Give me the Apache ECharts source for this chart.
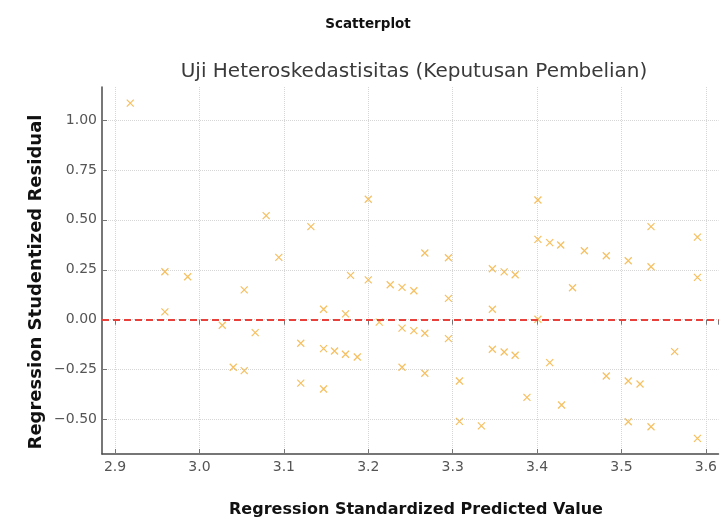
<!DOCTYPE html>
<html>
<head>
<meta charset="utf-8">
<script src="https://cdn.jsdelivr.net/npm/echarts@6/dist/echarts.min.js"></script>
<style>html,body{margin:0;padding:0;background:#fff}#c{width:720px;height:520px}</style>
</head>
<body>
<div id="c"></div>
<script>
const predicted = [2.918,2.959,2.959,2.986,3.027,3.040,3.053,3.053,3.066,3.079,3.094,3.120,3.120,3.132,3.147,3.147,3.147,3.160,3.173,3.173,3.179,3.187,3.200,3.200,3.213,3.226,3.240,3.240,3.240,3.254,3.254,3.267,3.267,3.267,3.295,3.295,3.295,3.308,3.308,3.334,3.347,3.347,3.347,3.361,3.361,3.374,3.374,3.388,3.401,3.401,3.401,3.415,3.415,3.428,3.429,3.442,3.456,3.482,3.482,3.508,3.508,3.508,3.522,3.535,3.535,3.535,3.563,3.590,3.590,3.590];
const residual = [1.084,0.240,0.039,0.215,-0.028,-0.238,-0.255,0.149,-0.065,0.521,0.312,-0.118,-0.318,0.466,0.052,-0.145,-0.347,-0.157,0.029,-0.173,0.222,-0.187,0.603,0.199,-0.012,0.175,0.162,-0.042,-0.238,0.145,-0.055,0.334,-0.068,-0.268,0.310,0.107,-0.095,-0.307,-0.509,-0.532,0.255,0.052,-0.148,0.239,-0.162,0.225,-0.178,-0.389,0.599,0.402,0.002,0.386,-0.215,0.374,-0.427,0.160,0.345,0.320,-0.282,0.295,-0.307,-0.511,-0.322,0.466,0.265,-0.536,-0.160,0.413,0.212,-0.594];
const refLine = 0;
const mainTitle = 'Scatterplot';
const subTitle = 'Uji Heteroskedastisitas (Keputusan Pembelian)';
const xName = 'Regression Standardized Predicted Value';
const yName = 'Regression Studentized Residual';

const pts = predicted.map((x, i) => [x, residual[i]]);
const chart = echarts.init(document.getElementById('c'), null, {renderer: 'canvas'});
const fmtY = v => (v < 0 ? '\u2212' : '') + Math.abs(v).toFixed(2);
const X_MIN = 2.8845, X_MAX = 3.615, Y_MIN = -0.6725, Y_MAX = 1.165;
const gridLine = {show: true, showMinLine: false, showMaxLine: false, lineStyle: {color: '#d6d6d6', type: 'dotted', width: 1}};
const tick = {show: true, inside: true, length: 5, lineStyle: {color: '#777', width: 1}};
chart.setOption({
  animation: false,
  backgroundColor: '#fff',
  grid: {left: 102, right: 0, top: 87, bottom: 66, containLabel: false},
  xAxis: [{
    type: 'value', min: X_MIN, max: X_MAX, minInterval: 0.1, maxInterval: 0.1,
    axisLine: {show: true, onZero: false, lineStyle: {color: '#4a4a4a', width: 1.5}},
    axisTick: tick,
    axisLabel: {showMinLabel: false, showMaxLabel: false, color: '#555', fontSize: 14, margin: 6,
      fontFamily: 'DejaVu Sans', formatter: v => v.toFixed(1)},
    splitLine: gridLine
  }, {
    type: 'value', position: 'top', min: X_MIN, max: X_MAX, minInterval: 0.1, maxInterval: 0.1,
    axisLine: {show: false}, axisTick: tick, axisLabel: {show: false}, splitLine: {show: false}
  }],
  yAxis: {
    type: 'value', min: Y_MIN, max: Y_MAX, minInterval: 0.25, maxInterval: 0.25,
    axisLine: {show: true, onZero: false, lineStyle: {color: '#4a4a4a', width: 1.5}},
    axisTick: tick,
    axisLabel: {showMinLabel: false, showMaxLabel: false, color: '#555', fontSize: 14, margin: 5,
      fontFamily: 'DejaVu Sans', formatter: fmtY},
    splitLine: gridLine
  },
  series: [{
    type: 'scatter',
    xAxisIndex: 0,
    data: pts,
    symbol: 'path://M0,0L10,10M10,0L0,10',
    symbolSize: 7,
    itemStyle: {color: 'rgba(0,0,0,0)', borderColor: '#f5b84e', borderWidth: 1.2, opacity: 0.9},
    markLine: {
      silent: true, symbol: 'none', label: {show: false},
      lineStyle: {color: '#e8413c', width: 2, type: [7, 4]},
      data: [{yAxis: refLine}]
    }
  }],
  graphic: [
    {type: 'text', style: {text: mainTitle, x: 368, y: 24, align: 'center', verticalAlign: 'middle', font: 'bold 13.5px "DejaVu Sans"', fill: '#111'}},
    {type: 'text', style: {text: subTitle, x: 414, y: 72, align: 'center', verticalAlign: 'middle', font: '20px "DejaVu Sans"', fill: '#3a3a3a'}},
    {type: 'text', style: {text: xName, x: 416, y: 510, align: 'center', verticalAlign: 'middle', font: 'bold 16px "DejaVu Sans"', fill: '#111'}},
    {type: 'text', rotation: Math.PI / 2, x: 36, y: 282, style: {text: yName, x: 0, y: 0, align: 'center', verticalAlign: 'middle', font: 'bold 18px "DejaVu Sans"', fill: '#111'}}
  ]
});
</script>
</body>
</html>
